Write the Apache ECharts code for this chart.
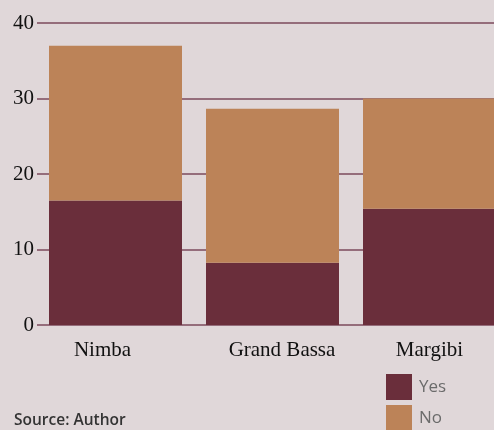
<!DOCTYPE html>
<html>
<head>
<meta charset="utf-8">
<script src="https://cdn.jsdelivr.net/npm/echarts@6/dist/echarts.min.js"></script>
<style>
html,body{margin:0;padding:0;background:#e0d7d9;overflow:hidden;width:494px;height:430px;}
#c{width:508px;height:430px;}
</style>
</head>
<body>
<div id="c"></div>
<script>
const categories = ['Nimba', 'Grand Bassa', 'Margibi'];
const yesValues = [16.5, 8.25, 15.4];
const noValues = [20.5, 20.4, 14.6];
const yTicks = [0, 10, 20, 30, 40];
const seriesNames = ['Yes', 'No'];

const chart = echarts.init(document.getElementById('c'), null, {renderer: 'canvas'});
const labelKeys = {'Nimba': 'a', 'Grand Bassa': 'b', 'Margibi': 'c'};
chart.setOption({
  backgroundColor: '#e0d7d9',
  animation: false,
  grid: {left: 37, top: 23, right: 0, bottom: 105, containLabel: false},
  legend: {
    orient: 'vertical', left: 386, top: 374, height: 80, itemWidth: 26, itemHeight: 26, itemGap: 5,
    padding: 0, icon: 'rect', data: seriesNames,
    textStyle: {fontFamily: 'Open Sans', fontSize: 17, color: '#6b6b6b', padding: [0, 0, 0, 2]}
  },
  graphic: [{
    type: 'text', left: 14, top: 413,
    style: {text: 'Source: Author', font: '600 15.5px "Open Sans"', fill: '#333333'}
  }],
  xAxis: {
    type: 'category', data: categories,
    axisLine: {show: false}, axisTick: {show: false},
    axisLabel: {
      margin: 15, interval: 0,
      formatter: v => '{' + labelKeys[v] + '|' + v + '}',
      rich: {
        a: {fontFamily: 'Liberation Serif', fontSize: 21, color: '#111', padding: [0, 26, 0, 0]},
        b: {fontFamily: 'Liberation Serif', fontSize: 21, color: '#111', padding: [0, 0, 6, 19]},
        c: {fontFamily: 'Liberation Serif', fontSize: 21, color: '#111'}
      }
    }
  },
  yAxis: {
    type: 'value', min: 0, max: 40, interval: 10,
    axisLine: {show: false}, axisTick: {show: false},
    axisLabel: {margin: 3, fontFamily: 'Liberation Serif', fontSize: 21, color: '#111',
      formatter: v => yTicks.includes(v) ? String(v) : ''},
    splitLine: {lineStyle: {color: '#7d4a5b', width: 1.5}}
  },
  series: [
    {name: seriesNames[0], type: 'bar', stack: 's', data: yesValues, barWidth: 133,
      itemStyle: {color: '#6a2e3b'}},
    {name: seriesNames[1], type: 'bar', stack: 's', data: noValues, barWidth: 133,
      itemStyle: {color: '#bc8358'}}
  ]
});
</script>
</body>
</html>
